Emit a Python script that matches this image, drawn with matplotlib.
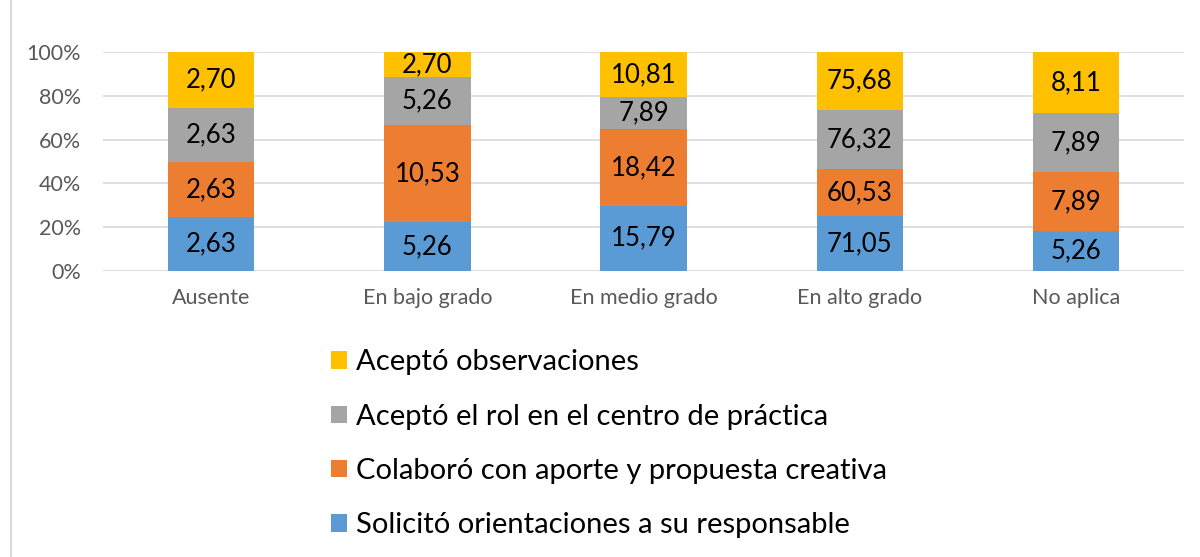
import numpy as np
import matplotlib
matplotlib.use("Agg")
import matplotlib.pyplot as plt
from matplotlib.patches import Patch

plt.rcParams['font.family'] = ['Lato', 'DejaVu Sans']

categories = ["Ausente", "En bajo grado", "En medio grado", "En alto grado", "No aplica"]
series_names = [
    "Solicitó orientaciones a su responsable",
    "Colaboró con aporte y propuesta creativa",
    "Aceptó el rol en el centro de práctica",
    "Aceptó observaciones",
]
solicito = [2.63, 5.26, 15.79, 71.05, 5.26]
colaboro = [2.63, 10.53, 18.42, 60.53, 7.89]
acepto_rol = [2.63, 5.26, 7.89, 76.32, 7.89]
acepto_obs = [2.70, 2.70, 10.81, 75.68, 8.11]
colors = ["#5B9BD5", "#ED7D31", "#A5A5A5", "#FFC000"]
y_ticks = [0, 20, 40, 60, 80, 100]

series = [solicito, colaboro, acepto_rol, acepto_obs]
data = np.array(series)
totals = data.sum(axis=0)
pct = data / totals * 100

fig = plt.figure(figsize=(12, 5.57), dpi=100)
ax = fig.add_axes([0.0858, 0.5135, 0.901, 0.3931])

x = np.arange(len(categories))
bottom = np.zeros(len(categories))
for vals, p, c in zip(data, pct, colors):
    ax.bar(x, p, bottom=bottom, width=0.4, color=c, zorder=2)
    for xi, v, pi, b in zip(x, vals, p, bottom):
        ax.text(xi, b + pi / 2, f"{v:.2f}".replace(".", ","), ha="center", va="center",
                fontsize=18.5, color="black", zorder=3)
    bottom += p

ax.set_xlim(-0.5, len(categories) - 0.5)
ax.set_ylim(0, 100)
ax.set_yticks(y_ticks)
ax.set_yticklabels([f"{t}%" for t in y_ticks])
ax.set_xticks(x)
ax.set_xticklabels(categories)
ax.tick_params(axis="both", length=0, labelsize=15.5, colors="#595959")
ax.tick_params(axis="x", pad=12)
ax.tick_params(axis="y", pad=16)
ax.grid(axis="y", color="#D9D9D9", linewidth=1.2, zorder=0)
for s in ax.spines.values():
    s.set_visible(False)

handles = [Patch(facecolor=c, edgecolor="none") for c in colors][::-1]
fig.legend(handles, series_names[::-1], loc="upper left", bbox_to_anchor=(0.264, 0.399),
           frameon=False, fontsize=21, handlelength=0.55, handleheight=0.55,
           handletextpad=0.3, labelspacing=0.97, borderpad=0)

# left border line of the original frame
fig.add_artist(plt.Line2D([0.009, 0.009], [0, 1], color="#D9D9D9", linewidth=1.5))

fig.savefig("out.png", dpi=100)
